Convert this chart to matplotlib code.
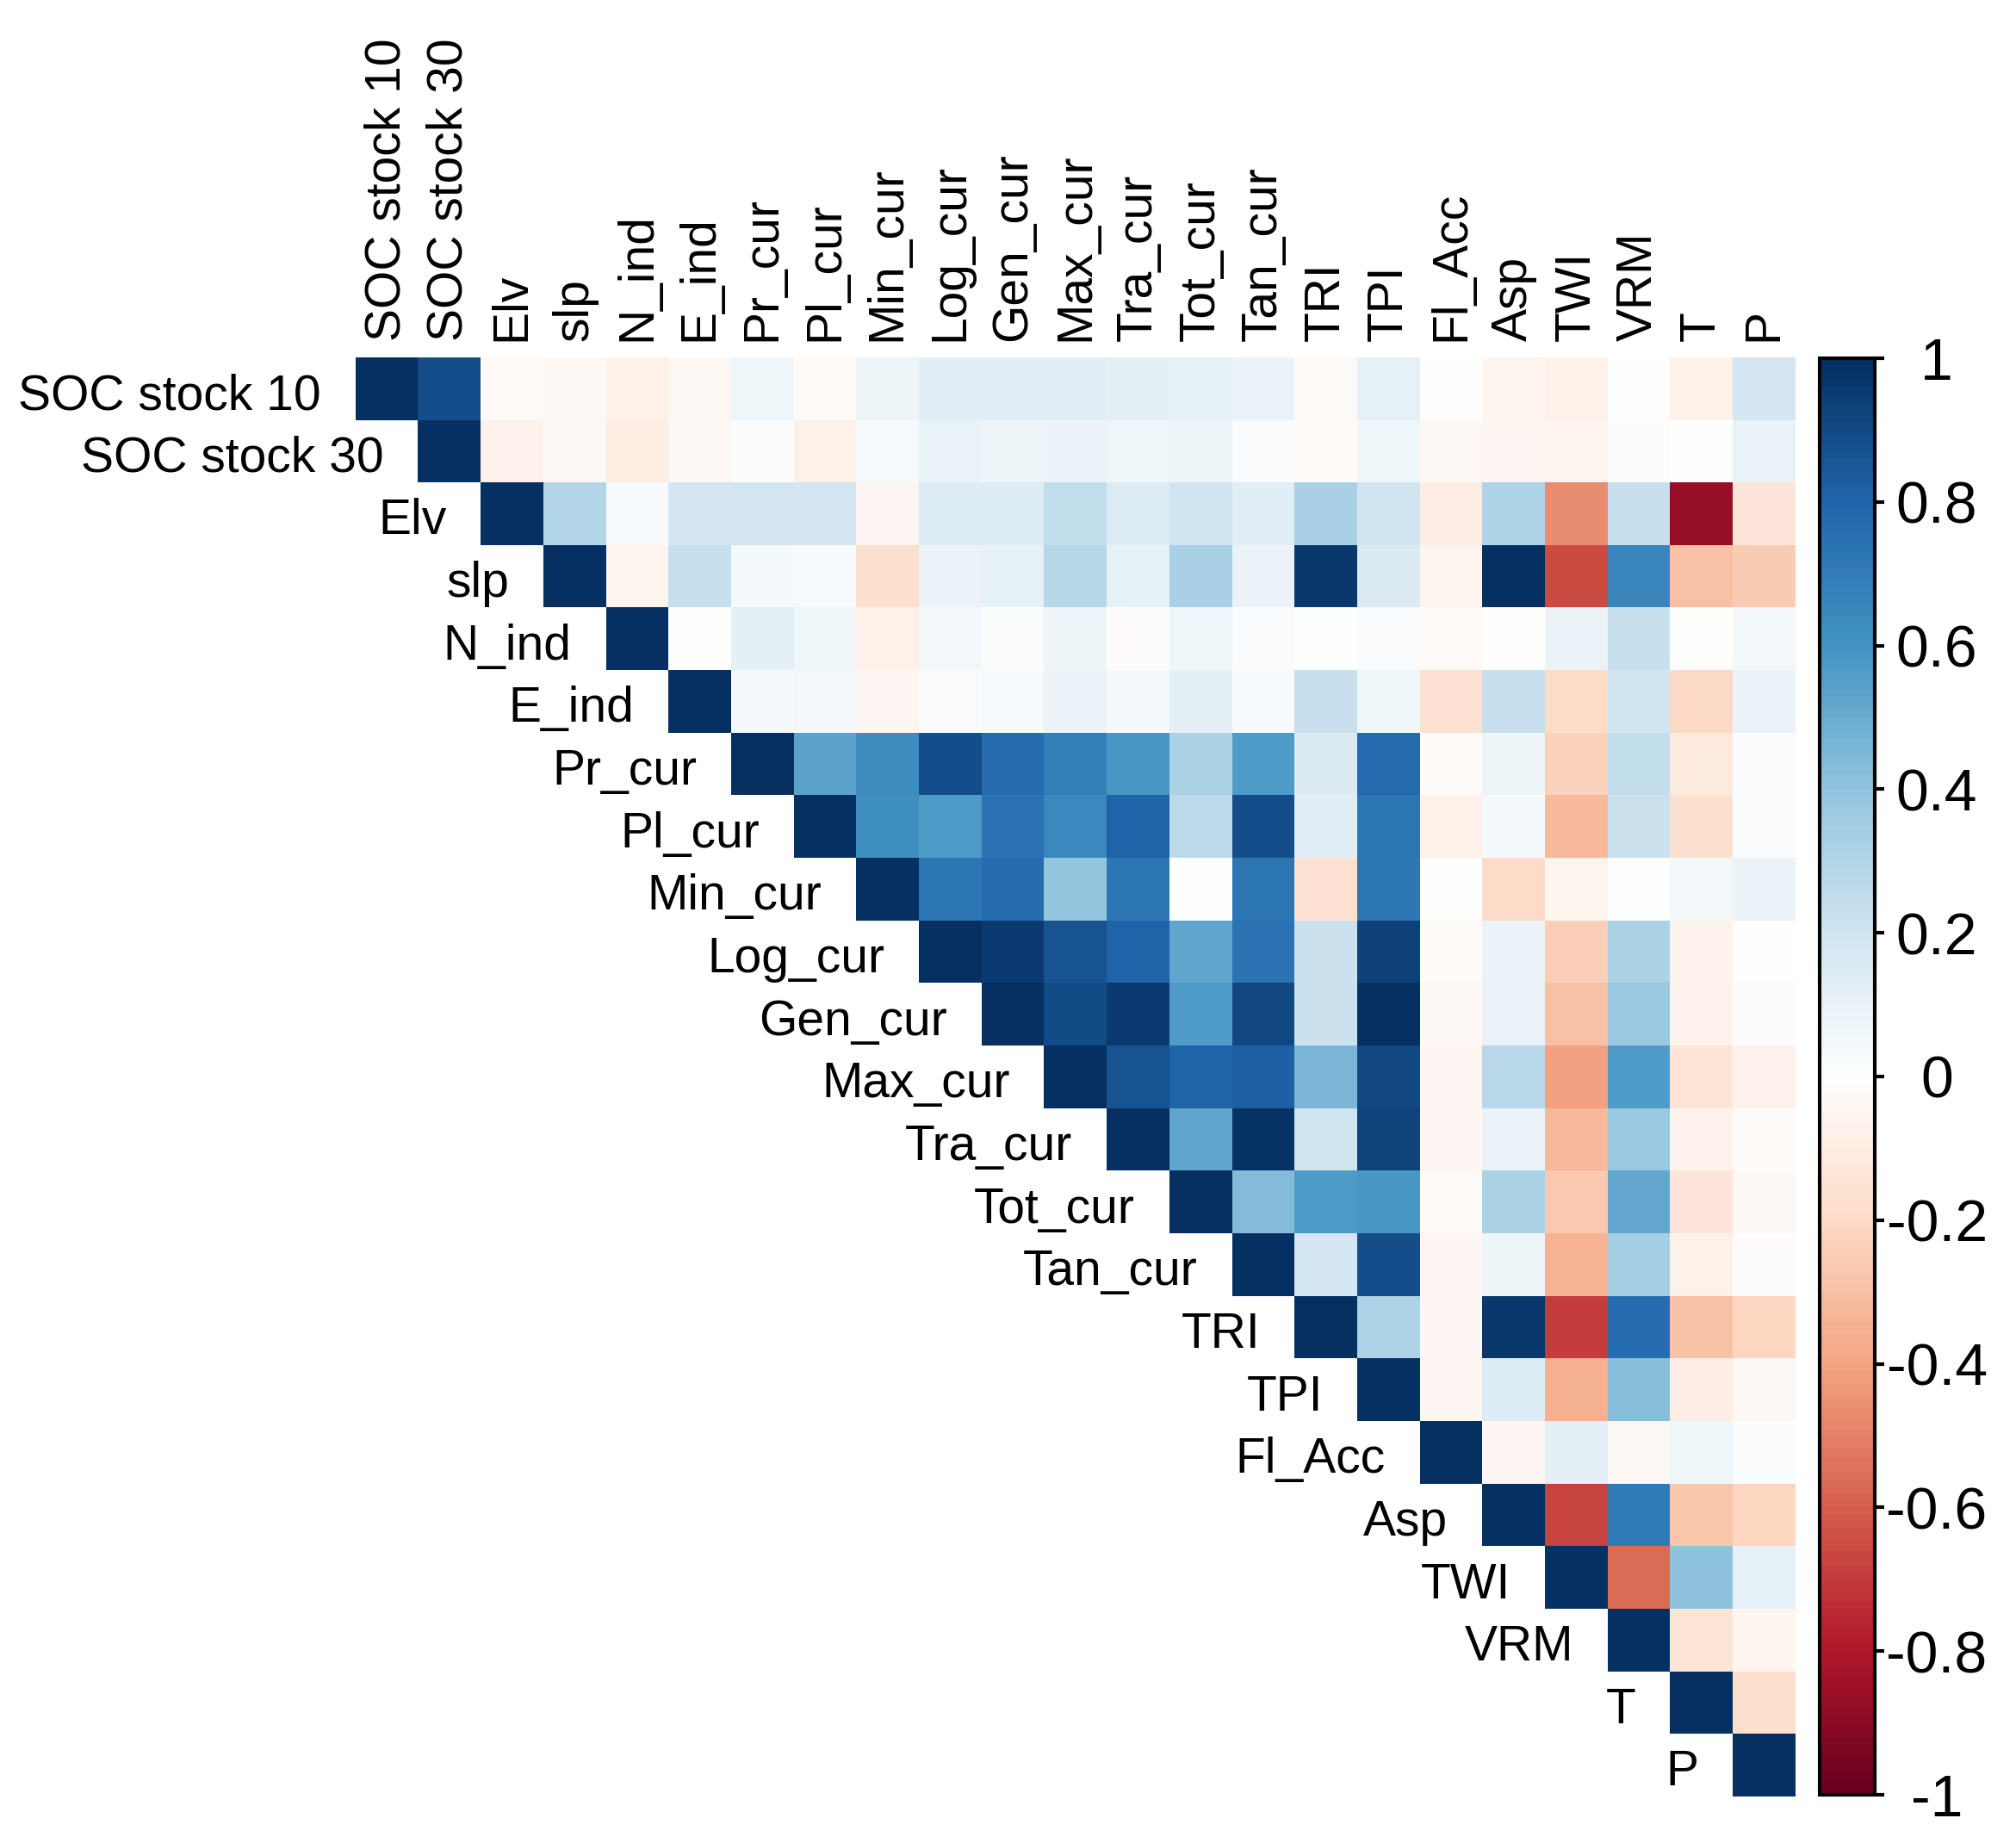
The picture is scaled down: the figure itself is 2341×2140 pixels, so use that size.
"""Upper-triangle correlation plot (corrplot style) of SOC stocks vs terrain covariates."""

import matplotlib

matplotlib.use("Agg")
import matplotlib.pyplot as plt
import numpy as np
from matplotlib.colors import LinearSegmentedColormap

labels = [
    "SOC stock 10", "SOC stock 30", "Elv", "slp", "N_ind", "E_ind", "Pr_cur", "Pl_cur",
    "Min_cur", "Log_cur", "Gen_cur", "Max_cur", "Tra_cur", "Tot_cur", "Tan_cur", "TRI",
    "TPI", "Fl_Acc", "Asp", "TWI", "VRM", "T", "P",
]

# upper triangle, row i holds the values for columns i..22
r_soc10 = [1, 0.88, -0.03, -0.04, -0.08, -0.04, 0.06, -0.03, 0.07, 0.12, 0.12, 0.12,
           0.11, 0.10, 0.08, -0.03, 0.10, -0.01, -0.06, -0.08, 0.0, -0.08, 0.18]
r_soc30 = [1, -0.07, -0.04, -0.11, -0.04, 0.01, -0.08, 0.03, 0.09, 0.07, 0.08, 0.06,
           0.07, 0.02, -0.03, 0.06, -0.04, -0.05, -0.06, -0.02, -0.01, 0.09]
r_elv = [1, 0.29, 0.03, 0.18, 0.18, 0.18, -0.05, 0.15, 0.15, 0.24, 0.15, 0.19, 0.13,
         0.32, 0.19, -0.1, 0.3, -0.47, 0.22, -0.87, -0.14]
r_slp = [1, -0.06, 0.22, 0.04, 0.03, -0.18, 0.08, 0.1, 0.28, 0.1, 0.32, 0.08, 0.96,
         0.16, -0.06, 0.99, -0.66, 0.65, -0.3, -0.26]
r_nind = [1, -0.01, 0.11, 0.06, -0.08, 0.05, 0.01, 0.07, -0.02, 0.06, 0.02, 0.0, 0.02,
          -0.03, -0.01, 0.08, 0.22, -0.01, 0.05]
r_eind = [1, 0.04, 0.05, -0.05, 0.02, 0.03, 0.08, 0.04, 0.11, 0.03, 0.22, 0.06, -0.16,
          0.22, -0.19, 0.19, -0.21, 0.08]
r_prcur = [1, 0.53, 0.62, 0.88, 0.76, 0.68, 0.58, 0.31, 0.56, 0.16, 0.77, -0.03, 0.07,
           -0.23, 0.24, -0.12, 0.02]
r_plcur = [1, 0.61, 0.56, 0.73, 0.64, 0.8, 0.26, 0.88, 0.12, 0.72, -0.08, 0.04, -0.33,
           0.21, -0.17, 0.02]
r_mincur = [1, 0.72, 0.76, 0.39, 0.72, 0.0, 0.72, -0.16, 0.72, -0.01, -0.2, -0.06, 0.0,
            0.05, 0.08]
r_logcur = [1, 0.95, 0.86, 0.8, 0.52, 0.73, 0.21, 0.93, -0.03, 0.08, -0.25, 0.31, -0.07,
            -0.01]
r_gencur = [1, 0.89, 0.95, 0.56, 0.9, 0.21, 0.99, -0.04, 0.08, -0.3, 0.37, -0.07, -0.02]
r_maxcur = [1, 0.86, 0.8, 0.81, 0.45, 0.9, -0.05, 0.27, -0.41, 0.57, -0.15, -0.07]
r_tracur = [1, 0.52, 0.98, 0.2, 0.92, -0.05, 0.08, -0.33, 0.37, -0.07, -0.03]
r_totcur = [1, 0.43, 0.56, 0.58, -0.03, 0.31, -0.27, 0.51, -0.14, -0.04]
r_tancur = [1, 0.18, 0.88, -0.05, 0.07, -0.34, 0.33, -0.08, -0.02]
r_tri = [1, 0.3, -0.05, 0.96, -0.7, 0.76, -0.3, -0.22]
r_tpi = [1, -0.05, 0.14, -0.36, 0.42, -0.1, -0.04]
r_flacc = [1, -0.05, 0.11, -0.04, 0.06, 0.01]
r_asp = [1, -0.67, 0.7, -0.28, -0.22]
r_twi = [1, -0.56, 0.4, 0.1]
r_vrm = [1, -0.15, -0.06]
r_t = [1, -0.18]
r_p = [1]

upper_rows = [
    r_soc10, r_soc30, r_elv, r_slp, r_nind, r_eind, r_prcur, r_plcur, r_mincur, r_logcur,
    r_gencur, r_maxcur, r_tracur, r_totcur, r_tancur, r_tri, r_tpi, r_flacc, r_asp, r_twi,
    r_vrm, r_t, r_p,
]

cbar_ticks = [1, 0.8, 0.6, 0.4, 0.2, 0, -0.2, -0.4, -0.6, -0.8, -1]
cbar_labels = ["1", "0.8", "0.6", "0.4", "0.2", "0", "-0.2", "-0.4", "-0.6", "-0.8", "-1"]

# corrplot COL2('RdBu')
rdbu_colors = ["#67001F", "#B2182B", "#D6604D", "#F4A582", "#FDDBC7", "#FFFFFF",
               "#D1E5F0", "#92C5DE", "#4393C3", "#2166AC", "#053061"]

plt.rcParams["font.family"] = ["Liberation Sans", "DejaVu Sans"]
plt.rcParams["axes.unicode_minus"] = False

n = len(labels)
corr = np.full((n, n), np.nan)
for i, row in enumerate(upper_rows):
    corr[i, i:] = row
masked = np.ma.masked_invalid(corr)

fig = plt.figure(figsize=(23.41, 21.40), dpi=100)
ax = fig.add_axes([0.1764, 0.0252, 0.7142, 0.7808])
cmap = LinearSegmentedColormap.from_list("corrplot_rdbu", rdbu_colors, N=200)
im = ax.imshow(masked, cmap=cmap, vmin=-1, vmax=1, interpolation="nearest", aspect="auto")
ax.set_xlim(-0.5, n - 0.5)
ax.set_ylim(n - 0.5, -0.5)
for s in ax.spines.values():
    s.set_visible(False)

# column labels on top, row labels next to the diagonal
ax.xaxis.tick_top()
ax.set_xticks(range(n))
ax.set_xticklabels(labels, rotation=90, fontsize=41)
ax.tick_params(axis="x", length=0, pad=14)
ax.set_yticks([])
for i, name in enumerate(labels):
    ax.text(i - 0.5 - 0.55, i + 0.12, name, ha="right", va="center", fontsize=41)

# colour legend
cax = fig.add_axes([0.9026, 0.0262, 0.0273, 0.7794])
cb = fig.colorbar(im, cax=cax, ticks=cbar_ticks)
cb.set_ticklabels(cbar_labels)
cb.outline.set_linewidth(3)
cax.tick_params(axis="y", length=8, width=3, direction="out", labelsize=49, pad=44)
for lbl in cax.get_yticklabels():
    lbl.set_horizontalalignment("center")

fig.savefig("out.png", dpi=100)
plt.close(fig)
